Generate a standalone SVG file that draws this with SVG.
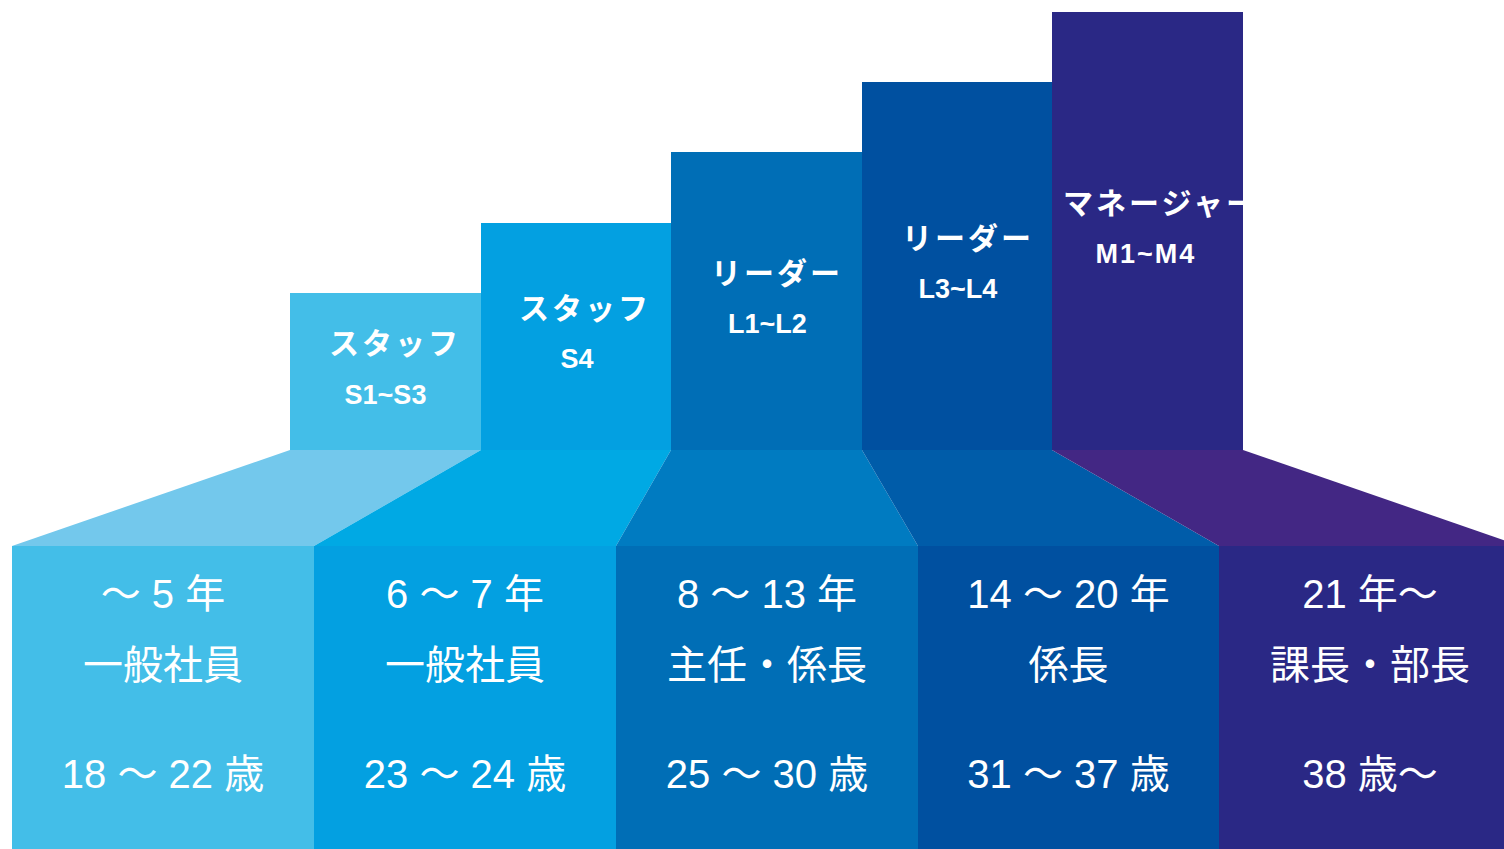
<svg xmlns="http://www.w3.org/2000/svg" width="1504" height="849" viewBox="0 0 1504 849">
<defs>
<style>
.kana{font-family:"Noto Sans CJK JP","Liberation Sans",sans-serif;font-weight:700;font-size:30px;letter-spacing:3px;fill:#fff}
.code{font-family:"Liberation Sans","Noto Sans CJK JP",sans-serif;font-weight:700;font-size:27px;fill:#fff;text-anchor:middle}
.info{font-family:"Liberation Sans","Noto Sans CJK JP",sans-serif;font-size:40px;fill:#fff;text-anchor:middle}
</style>
<clipPath id="clip5"><rect x="1052" y="12" width="191" height="438"/></clipPath>
</defs>
<rect width="1504" height="849" fill="#fff"/>
<g id="connectors">
<polygon points="290,450 481,450 314,546 12,546" fill="#73C8EC"/>
<polygon points="481,450 671,450 616,546 314,546" fill="#00A9E4"/>
<polygon points="671,450 862,450 918,546 616,546" fill="#007BC1"/>
<polygon points="862,450 1052,450 1219,546 918,546" fill="#005CA9"/>
<polygon points="1052,450 1243,450 1521,546 1219,546" fill="#432784"/>
</g>
<g id="level1">
<rect x="290" y="293" width="191" height="157" fill="#43BEE8"/>
<text class="kana" x="329" y="354">スタッフ</text>
<text class="code" x="385.5" y="404">S1~S3</text>
<rect x="12" y="546" width="302" height="303" fill="#43BEE8"/>
<text class="info" x="163" y="608">～ 5 年</text>
<text class="info" x="163" y="679">一般社員</text>
<text class="info" x="163" y="788">18 ～ 22 歳</text>
</g>
<g id="level2">
<rect x="481" y="223" width="190" height="227" fill="#03A0E1"/>
<text class="kana" x="519" y="319">スタッフ</text>
<text class="code" x="577" y="368">S4</text>
<rect x="314" y="546" width="302" height="303" fill="#03A0E1"/>
<text class="info" x="465" y="608">6 ～ 7 年</text>
<text class="info" x="465" y="679">一般社員</text>
<text class="info" x="465" y="788">23 ～ 24 歳</text>
</g>
<g id="level3">
<rect x="671" y="152" width="191" height="298" fill="#006EB6"/>
<text class="kana" x="711" y="284">リーダー</text>
<text class="code" x="767.5" y="333">L1~L2</text>
<rect x="616" y="546" width="302" height="303" fill="#006EB6"/>
<text class="info" x="767" y="608">8 ～ 13 年</text>
<text class="info" x="767" y="679">主任・係長</text>
<text class="info" x="767" y="788">25 ～ 30 歳</text>
</g>
<g id="level4">
<rect x="862" y="82" width="190" height="368" fill="#0050A0"/>
<text class="kana" x="902" y="249">リーダー</text>
<text class="code" x="958" y="298">L3~L4</text>
<rect x="918" y="546" width="301" height="303" fill="#0050A0"/>
<text class="info" x="1068.5" y="608">14 ～ 20 年</text>
<text class="info" x="1068.5" y="679">係長</text>
<text class="info" x="1068.5" y="788">31 ～ 37 歳</text>
</g>
<g id="level5">
<rect x="1052" y="12" width="191" height="438" fill="#2A2885"/>
<g clip-path="url(#clip5)">
<text class="kana" x="1063" y="214">マネージャー</text>
</g>
<text class="code" x="1146" y="263" letter-spacing="2">M1~M4</text>
<rect x="1219" y="546" width="302" height="303" fill="#2A2885"/>
<text class="info" x="1370" y="608">21 年～</text>
<text class="info" x="1370" y="679">課長・部長</text>
<text class="info" x="1370" y="788">38 歳～</text>
</g>
</svg>
